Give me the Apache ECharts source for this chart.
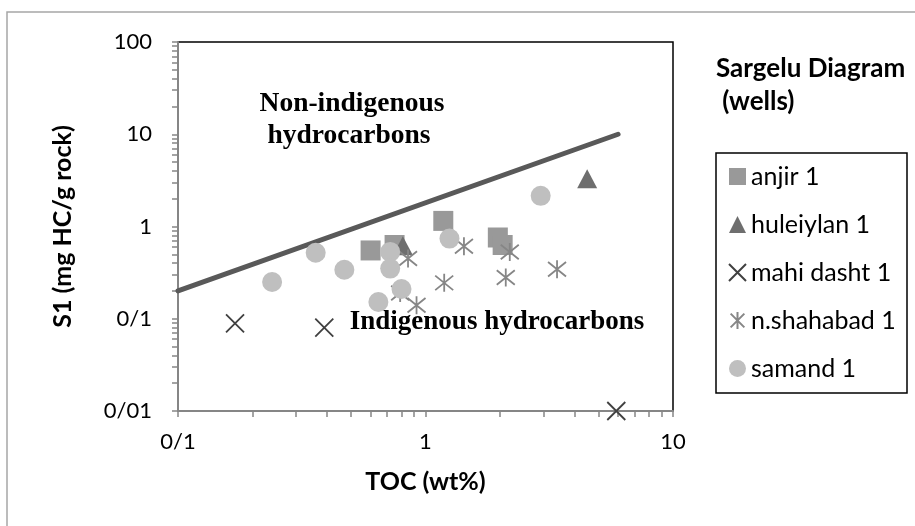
<!DOCTYPE html>
<html>
<head>
<meta charset="utf-8">
<script src="https://cdn.jsdelivr.net/npm/echarts@6/dist/echarts.min.js"></script>
<style>
  html, body { margin: 0; padding: 0; background: #fff; }
  #chart { width: 915px; height: 526px; }
</style>
</head>
<body>
<div id="chart"></div>
<script>
// Sargelu formation: S1 vs TOC for five wells
const seriesNames = ['anjir 1', 'huleiylan 1', 'mahi dasht 1', 'n.shahabad 1', 'samand 1'];

// [TOC (wt%), S1 (mg HC/g rock)]
const anjir = [[0.60, 0.55], [0.75, 0.63], [1.18, 1.15], [1.96, 0.76], [2.05, 0.63]];
const huleiylan = [[0.81, 0.62], [4.5, 3.3]];
const mahiDasht = [[0.17, 0.089], [0.39, 0.080], [5.9, 0.01]];
const nShahabad = [[0.85, 0.45], [1.43, 0.61], [2.19, 0.53], [1.19, 0.245], [2.11, 0.28],
                   [0.92, 0.14], [3.4, 0.344], [0.79, 0.19]];
const samand = [[0.24, 0.25], [0.36, 0.52], [0.47, 0.34], [0.72, 0.53], [0.72, 0.35],
                [0.80, 0.21], [0.645, 0.152], [1.25, 0.74], [2.92, 2.15]];

// Boundary between indigenous and non-indigenous hydrocarbons
const boundaryLine = [[0.1, 0.2], [6, 10]];

const xTickValues = [0.1, 1, 10];
const xTickLabels = ['0/1', '1', '10'];
const yTickValues = [0.01, 0.1, 1, 10, 100];
const yTickLabels = ['0/01', '0/1', '1', '10', '100'];

// minor tick positions 1..9 within every decade of an axis range
function decadeTicks(lo, hi) {
  const out = [];
  for (let e = Math.round(Math.log10(lo)); e < Math.round(Math.log10(hi)); e++) {
    for (let k = 1; k <= 9; k++) out.push(+(k * Math.pow(10, e)).toPrecision(6));
  }
  out.push(hi);
  return out;
}
function labelFor(values, labels) {
  return function (v) {
    const i = values.findIndex(t => Math.abs(Math.log10(t) - Math.log10(v)) < 1e-6);
    return i >= 0 ? labels[i] : '';
  };
}

const FONT = 'Lato';
const SERIF = 'Liberation Serif';
const AXIS_GRAY = '#868686';
const X_PATH = 'path://M0,0L10,10M10,0L0,10';
const STAR_PATH = 'path://M0,0L10,10M10,0L0,10M5,-1.2L5,11.2';

const chart = echarts.init(document.getElementById('chart'), null, { renderer: 'canvas' });

chart.setOption({
  animation: false,
  backgroundColor: '#ffffff',
  textStyle: { fontFamily: FONT },
  grid: {
    left: 178, right: 242, top: 42, bottom: 115,
    show: true, borderColor: '#000', borderWidth: 1.5, backgroundColor: 'transparent'
  },
  xAxis: {
    type: 'log', logBase: 10, min: 0.1, max: 10,
    name: 'TOC (wt%)', nameLocation: 'middle', nameGap: 58,
    nameTextStyle: { fontFamily: FONT, fontWeight: 'bold', fontSize: 25, color: '#000' },
    axisLine: { lineStyle: { color: AXIS_GRAY, width: 2 } },
    axisTick: { show: true, length: 6, lineStyle: { color: AXIS_GRAY, width: 1.5 },
                customValues: decadeTicks(0.1, 10) },
    axisLabel: { fontFamily: FONT, fontSize: 22, color: '#000', margin: 20,
                 customValues: xTickValues, formatter: labelFor(xTickValues, xTickLabels) },
    splitLine: { show: false }
  },
  yAxis: {
    type: 'log', logBase: 10, min: 0.01, max: 100,
    name: 'S1 (mg HC/g rock)', nameLocation: 'middle', nameGap: 103, nameRotate: 90,
    nameTextStyle: { fontFamily: FONT, fontWeight: 'bold', fontSize: 25, color: '#000' },
    axisLine: { lineStyle: { color: AXIS_GRAY, width: 2 } },
    axisTick: { show: true, length: 6, lineStyle: { color: AXIS_GRAY, width: 1.5 },
                customValues: decadeTicks(0.01, 100) },
    axisLabel: { fontFamily: FONT, fontSize: 22, color: '#000', margin: 26,
                 customValues: yTickValues, formatter: labelFor(yTickValues, yTickLabels) },
    splitLine: { show: false }
  },
  legend: {
    data: seriesNames,
    orient: 'vertical',
    left: 728, top: 164,
    itemWidth: 17, itemHeight: 17, itemGap: 23, itemTextGap: 3,
    padding: 0,
    textStyle: { fontFamily: FONT, fontSize: 25, color: '#000', lineHeight: 25 },
    selectedMode: false
  },
  graphic: [
    // outer chart frame
    { type: 'rect', shape: { x: 7, y: 12, width: 1000, height: 1000 },
      style: { fill: 'none', stroke: '#a6a6a6', lineWidth: 1.5 }, silent: true, z: -10 },
    // legend box
    { type: 'rect', shape: { x: 716, y: 153, width: 191, height: 240 },
      style: { fill: 'none', stroke: '#000', lineWidth: 1.5 }, silent: true },
    { type: 'text', left: 716, top: 56,
      style: { text: 'Sargelu Diagram', fontFamily: FONT, fontWeight: 'bold', fontSize: 26, fill: '#000' } },
    { type: 'text', left: 716, top: 89,
      style: { text: ' (wells)', fontFamily: FONT, fontWeight: 'bold', fontSize: 26, fill: '#000' } },
    { type: 'text', x: 352, y: 104,
      style: { text: 'Non-indigenous', fontFamily: SERIF, fontWeight: 'bold', fontSize: 27.5,
               fill: '#000', align: 'center', verticalAlign: 'middle' } },
    { type: 'text', x: 349, y: 136,
      style: { text: 'hydrocarbons', fontFamily: SERIF, fontWeight: 'bold', fontSize: 27.5,
               fill: '#000', align: 'center', verticalAlign: 'middle' } },
    { type: 'text', x: 497, y: 322,
      style: { text: 'Indigenous hydrocarbons', fontFamily: SERIF, fontWeight: 'bold', fontSize: 27,
               fill: '#000', align: 'center', verticalAlign: 'middle' } }
  ],
  series: [
    {
      name: 'boundary', type: 'line', data: boundaryLine, showSymbol: false, symbol: 'none',
      lineStyle: { color: '#595959', width: 5, cap: 'round' }, silent: true, z: 1
    },
    {
      name: 'anjir 1', type: 'scatter', data: anjir, symbol: 'rect', symbolSize: 20,
      itemStyle: { color: '#999999', opacity: 1 }, z: 2
    },
    {
      name: 'huleiylan 1', type: 'scatter', data: huleiylan, symbol: 'triangle', symbolSize: [20, 19],
      itemStyle: { color: '#6e6e6e', opacity: 1 }, z: 3
    },
    {
      name: 'mahi dasht 1', type: 'scatter', data: mahiDasht, symbol: X_PATH, symbolSize: 18,
      itemStyle: { color: 'transparent', borderColor: '#404040', borderWidth: 1.8, opacity: 1 }, z: 4
    },
    {
      name: 'n.shahabad 1', type: 'scatter', data: nShahabad, symbol: STAR_PATH, symbolSize: 18,
      itemStyle: { color: 'transparent', borderColor: '#868686', borderWidth: 1.8, opacity: 1 }, z: 5
    },
    {
      name: 'samand 1', type: 'scatter', data: samand, symbol: 'circle', symbolSize: 20,
      itemStyle: { color: '#bfbfbf', opacity: 1 }, z: 6
    }
  ]
});
</script>
</body>
</html>
